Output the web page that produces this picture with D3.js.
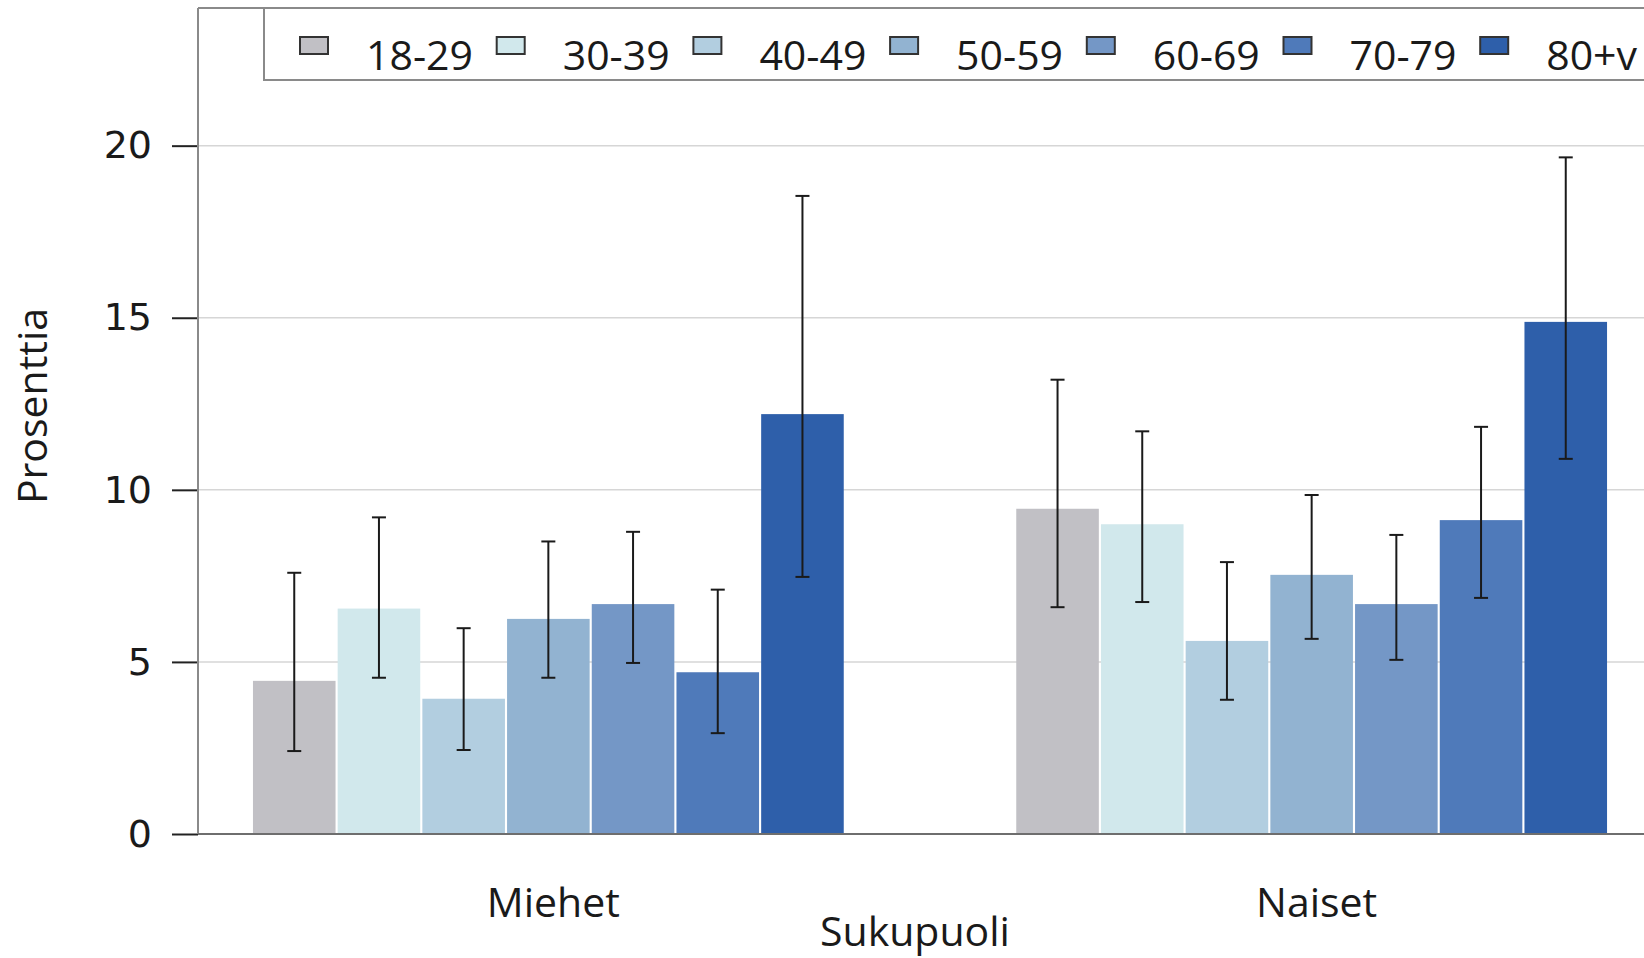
<!DOCTYPE html>
<html>
<head>
<meta charset="utf-8">
<script src="https://cdn.jsdelivr.net/npm/d3@7"></script>
<style>
    body { margin: 0; background: #fff; }
    svg { display: block; }
</style>
</head>
<body>
<div id="chart"></div>
<script>
let svgWidth = 1644;
let svgHeight = 958;

// data
let groups = ["Miehet", "Naiset"];
let ages = ["18-29", "30-39", "40-49", "50-59", "60-69", "70-79", "80+v"];
let colors = ["#c1c0c5", "#d1e8ec", "#b2cee0", "#92b3d1", "#7497c6", "#4f7aba", "#2e5faa"];
let valMiehet = [4.45, 6.55, 3.93, 6.25, 6.68, 4.7, 12.2];
let lowMiehet = [2.41, 4.54, 2.44, 4.54, 4.97, 2.93, 7.47];
let highMiehet = [7.59, 9.2, 5.98, 8.5, 8.78, 7.1, 18.54];
let valNaiset = [9.45, 9.0, 5.61, 7.53, 6.68, 9.12, 14.88];
let lowNaiset = [6.59, 6.74, 3.9, 5.67, 5.06, 6.86, 10.9];
let highNaiset = [13.2, 11.7, 7.9, 9.85, 8.69, 11.83, 19.66];
let yTicks = [0, 5, 10, 15, 20];

let mar = { top: 8, left: 198, bottom: 124 };
let plotRight = 1662;
let plotBottom = svgHeight - mar.bottom;

let rows = [];
groups.forEach(function (g, gi) {
    let v = gi === 0 ? valMiehet : valNaiset;
    let lo = gi === 0 ? lowMiehet : lowNaiset;
    let hi = gi === 0 ? highMiehet : highNaiset;
    ages.forEach(function (a, i) {
        rows.push({ group: g, age: a, value: v[i], low: lo[i], high: hi[i], color: colors[i] });
    });
});

let svg = d3.select("#chart")
    .append("svg")
    .attr("width", svgWidth)
    .attr("height", svgHeight);

let y = d3.scaleLinear()
    .domain([0, 24])
    .range([plotBottom, mar.top]);

let x0 = d3.scaleBand()
    .domain(groups)
    .range([mar.left, plotRight])
    .paddingInner(0.226)
    .paddingOuter(0.072);

let x1 = d3.scaleBand()
    .domain(ages)
    .range([0, x0.bandwidth()])
    .paddingInner(0.025);

// gridlines
svg.append("g")
    .selectAll("line")
    .data(yTicks.filter(d => d > 0))
    .enter()
    .append("line")
    .attr("x1", mar.left)
    .attr("x2", svgWidth)
    .attr("y1", d => y(d))
    .attr("y2", d => y(d))
    .attr("stroke", "#d6d6d6")
    .attr("stroke-width", 1.5);

// bars
let bars = svg.append("g");
bars.selectAll("rect")
    .data(rows)
    .enter()
    .append("rect")
    .attr("x", d => x0(d.group) + x1(d.age))
    .attr("y", d => y(d.value))
    .attr("width", x1.bandwidth())
    .attr("height", d => y(0) - y(d.value))
    .attr("fill", d => d.color);

// error bars
let capW = 7;
let err = svg.append("g")
    .attr("stroke", "#1a1a1a")
    .attr("stroke-width", 2);
rows.forEach(function (d) {
    let cx = x0(d.group) + x1(d.age) + x1.bandwidth() / 2;
    err.append("line")
        .attr("x1", cx).attr("x2", cx)
        .attr("y1", y(d.low)).attr("y2", y(d.high));
    err.append("line")
        .attr("x1", cx - capW).attr("x2", cx + capW)
        .attr("y1", y(d.low)).attr("y2", y(d.low));
    err.append("line")
        .attr("x1", cx - capW).attr("x2", cx + capW)
        .attr("y1", y(d.high)).attr("y2", y(d.high));
});

// y axis
let yAxis = svg.append("g")
    .attr("transform", `translate(${mar.left}, 0)`)
    .call(d3.axisLeft(y).tickValues(yTicks).tickSize(26).tickPadding(20).tickFormat(d3.format("d")));
yAxis.select(".domain").remove();
yAxis.selectAll(".tick line")
    .attr("stroke", "#222")
    .attr("stroke-width", 2);
yAxis.selectAll(".tick text")
    .attr("font-family", "DejaVu Sans")
    .attr("font-size", 38)
    .attr("fill", "#1a1a1a");

// frame: left, top, bottom
svg.append("line")
    .attr("x1", mar.left).attr("x2", mar.left)
    .attr("y1", mar.top).attr("y2", plotBottom)
    .attr("stroke", "#8a8a8a").attr("stroke-width", 2);
svg.append("line")
    .attr("x1", mar.left).attr("x2", svgWidth)
    .attr("y1", mar.top).attr("y2", mar.top)
    .attr("stroke", "#8a8a8a").attr("stroke-width", 2);
svg.append("line")
    .attr("x1", mar.left).attr("x2", svgWidth)
    .attr("y1", plotBottom).attr("y2", plotBottom)
    .attr("stroke", "#6e6e6e").attr("stroke-width", 2);

// category labels
svg.append("g")
    .selectAll("text")
    .data(groups)
    .enter()
    .append("text")
    .attr("x", d => x0(d) + x0.bandwidth() / 2 + 5)
    .attr("y", 917)
    .attr("text-anchor", "middle")
    .attr("font-family", "Open Sans")
    .attr("font-size", 41)
    .attr("fill", "#1a1a1a")
    .text(d => d);

svg.append("text")
    .attr("x", 915)
    .attr("y", 946)
    .attr("text-anchor", "middle")
    .attr("font-family", "Open Sans")
    .attr("font-size", 41)
    .attr("fill", "#1a1a1a")
    .text("Sukupuoli");

svg.append("text")
    .attr("transform", "translate(47, 406) rotate(-90)")
    .attr("text-anchor", "middle")
    .attr("font-family", "Open Sans")
    .attr("font-size", 41)
    .attr("fill", "#1a1a1a")
    .text("Prosenttia");

// legend
let legend = svg.append("g");
legend.append("rect")
    .attr("x", 264)
    .attr("y", mar.top)
    .attr("width", 1500)
    .attr("height", 72)
    .attr("fill", "#fff")
    .attr("stroke", "#8a8a8a")
    .attr("stroke-width", 2);

let item = legend.selectAll("g.item")
    .data(ages)
    .enter()
    .append("g")
    .attr("class", "item")
    .attr("transform", (d, i) => `translate(${300 + i * 196.7}, 0)`);
item.append("rect")
    .attr("x", 0)
    .attr("y", 37)
    .attr("width", 28)
    .attr("height", 17)
    .attr("fill", (d, i) => colors[i])
    .attr("stroke", "#333")
    .attr("stroke-width", 2);
item.append("text")
    .attr("x", 66)
    .attr("y", 70)
    .attr("font-family", "Open Sans")
    .attr("font-size", 41)
    .attr("fill", "#1a1a1a")
    .text(d => d);
</script>
</body>
</html>
